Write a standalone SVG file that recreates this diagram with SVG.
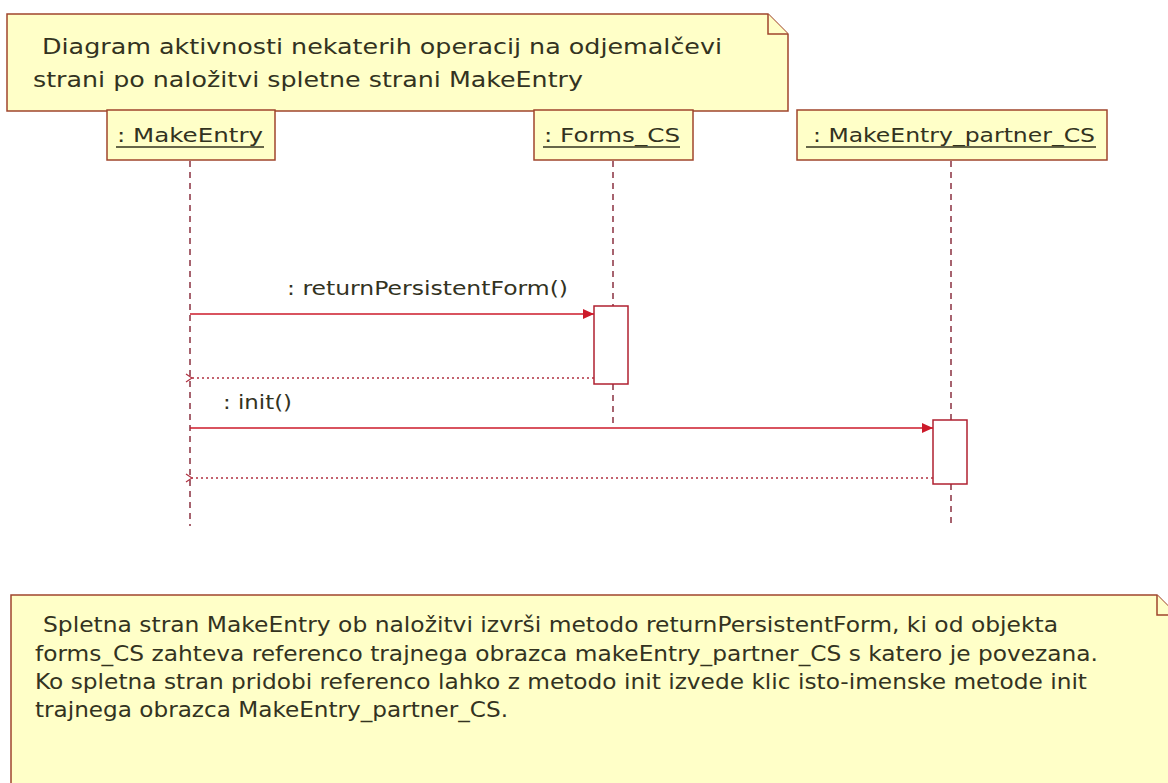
<svg xmlns="http://www.w3.org/2000/svg" width="1168" height="783" viewBox="0 0 1168 783">
  <style>
    .note { fill: #ffffc8; stroke: #a0462d; stroke-width: 1.5; }
    .obj { fill: #ffffc8; stroke: #a0462d; stroke-width: 1.5; }
    .act { fill: #ffffff; stroke: #b02030; stroke-width: 1.5; }
    .txt { font-family: "DejaVu Sans", "Liberation Sans", sans-serif; fill: #33331f; }
    .ul { stroke: #33331f; stroke-width: 1.5; }
    .life { stroke: #8b3040; stroke-width: 1.5; stroke-dasharray: 6 5; fill: none; }
    .call { stroke: #cc1a2a; stroke-width: 1.5; fill: none; }
    .ret { stroke: #b03040; stroke-width: 1.5; stroke-dasharray: 2 3; fill: none; }
  </style>
  <defs>
    <marker id="filled" markerWidth="12" markerHeight="10" refX="11" refY="5" orient="auto" markerUnits="userSpaceOnUse">
      <path d="M0,0 L11,5 L0,10 Z" fill="#cc1a2a"/>
    </marker>
    <marker id="open" markerWidth="10" markerHeight="10" refX="1" refY="5" orient="auto" markerUnits="userSpaceOnUse">
      <path d="M7,1 L1,5 L7,9" fill="none" stroke="#b03040" stroke-width="1.2"/>
    </marker>
  </defs>
  <rect width="1168" height="783" fill="#ffffff"/>

  <!-- title note -->
  <g id="note-title">
    <path class="note" d="M7,14 L768,14 L788,34 L788,111 L7,111 Z"/>
    <path class="note" d="M768,14 L768,34 L788,34"/>
    <text class="txt" font-size="20.5" x="42" y="54" textLength="680" lengthAdjust="spacingAndGlyphs">Diagram aktivnosti nekaterih operacij na odjemalčevi</text>
    <text class="txt" font-size="20.5" x="33" y="87" textLength="550" lengthAdjust="spacingAndGlyphs">strani po naložitvi spletne strani MakeEntry</text>
  </g>

  <!-- lifelines -->
  <g id="lifelines">
    <line class="life" x1="190" y1="161" x2="190" y2="526"/>
    <line class="life" x1="613" y1="161" x2="613" y2="306"/>
    <line class="life" x1="613" y1="384" x2="613" y2="425"/>
    <line class="life" x1="951" y1="161" x2="951" y2="420"/>
    <line class="life" x1="951" y1="484" x2="951" y2="526"/>
  </g>

  <!-- objects -->
  <g id="obj-makeentry">
    <rect class="obj" x="107" y="110" width="168" height="50"/>
    <text class="txt" font-size="20" x="117" y="142" textLength="146" lengthAdjust="spacingAndGlyphs">: MakeEntry</text>
    <line class="ul" x1="116" y1="147" x2="264" y2="147"/>
  </g>
  <g id="obj-forms">
    <rect class="obj" x="534" y="110" width="159" height="50"/>
    <text class="txt" font-size="20" x="544" y="142" textLength="136" lengthAdjust="spacingAndGlyphs">: Forms_CS</text>
    <line class="ul" x1="543" y1="147" x2="680" y2="147"/>
  </g>
  <g id="obj-partner">
    <rect class="obj" x="797" y="110" width="310" height="50"/>
    <text class="txt" font-size="20" x="813" y="142" textLength="282" lengthAdjust="spacingAndGlyphs">: MakeEntry_partner_CS</text>
    <line class="ul" x1="806" y1="147" x2="1096" y2="147"/>
  </g>

  <!-- activations -->
  <g id="act-forms">
    <rect class="act" x="594" y="306" width="34" height="78"/>
  </g>
  <g id="act-partner">
    <rect class="act" x="933" y="420" width="34" height="64"/>
  </g>

  <!-- messages -->
  <g id="connectors">
    <line class="call" x1="190" y1="314" x2="594" y2="314" marker-end="url(#filled)"/>
    <text class="txt" font-size="20" x="287" y="295" textLength="281" lengthAdjust="spacingAndGlyphs">: returnPersistentForm()</text>
    <line class="ret" x1="594" y1="378" x2="192" y2="378" marker-end="url(#open)"/>
    <text class="txt" font-size="20" x="223" y="409" textLength="69" lengthAdjust="spacingAndGlyphs">: init()</text>
    <line class="call" x1="190" y1="428" x2="933" y2="428" marker-end="url(#filled)"/>
    <line class="ret" x1="933" y1="478" x2="192" y2="478" marker-end="url(#open)"/>
  </g>

  <!-- description note -->
  <g id="note-description">
    <path class="note" d="M11,595 L1157,595 L1177,615 L1177,790 L11,790 Z"/>
    <path class="note" d="M1157,595 L1157,615 L1177,615"/>
    <text class="txt" font-size="20.5" x="43" y="632" textLength="1015" lengthAdjust="spacingAndGlyphs">Spletna stran MakeEntry ob naložitvi izvrši metodo returnPersistentForm, ki od objekta</text>
    <text class="txt" font-size="20.5" x="35" y="661" textLength="1063" lengthAdjust="spacingAndGlyphs">forms_CS zahteva referenco trajnega obrazca makeEntry_partner_CS s katero je povezana.</text>
    <text class="txt" font-size="20.5" x="35" y="689" textLength="1052" lengthAdjust="spacingAndGlyphs">Ko spletna stran pridobi referenco lahko z metodo init izvede klic isto-imenske metode init</text>
    <text class="txt" font-size="20.5" x="35" y="717" textLength="473" lengthAdjust="spacingAndGlyphs">trajnega obrazca MakeEntry_partner_CS.</text>
  </g>
</svg>
